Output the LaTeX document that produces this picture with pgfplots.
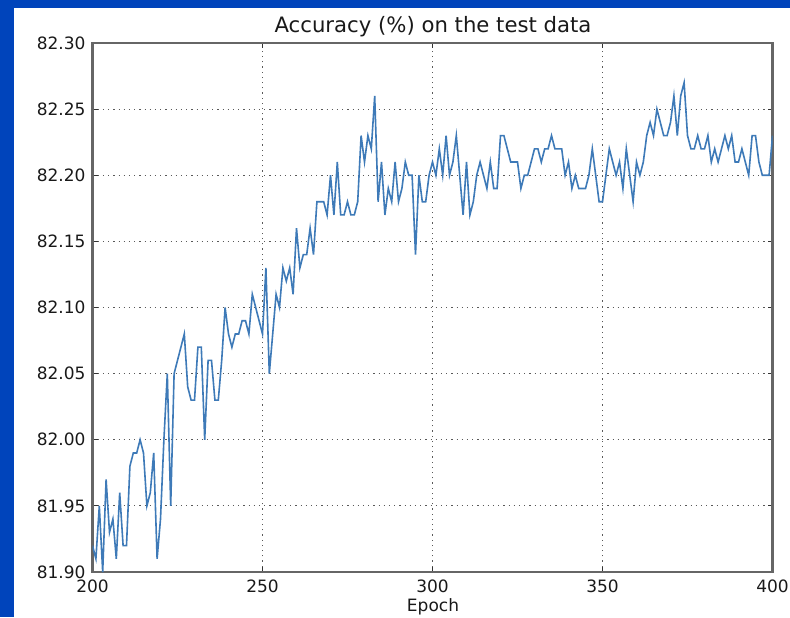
\documentclass[border=0pt]{standalone}
\usepackage{pgfplots}
\pgfplotsset{compat=1.18}
\usepackage{fontspec}
\setmainfont{DejaVu Sans}
\definecolor{slideblue}{RGB}{0,68,187}
\definecolor{mplblue}{RGB}{62,122,184}
\begin{document}
\begin{tikzpicture}
\useasboundingbox (0,0) rectangle (395pt,308.5pt);
\fill[slideblue] (0,0) rectangle (395pt,308.5pt);
\fill[white] (7pt,0) rectangle (395pt,304.5pt);
\begin{axis}[
  at={(46.25pt,22.5pt)}, anchor=south west,
  scale only axis, width=340pt, height=264.5pt,
  xmin=200, xmax=400, ymin=81.90, ymax=82.30,
  xtick={200,250,...,400}, ytick={81.90,81.95,...,82.31},
  tick align=inside, major tick length=2.5pt,
  tick style={black!80, line width=0.5pt},
  axis line style={black!60, line width=1.1pt},
  grid=major, major grid style={black!65, line width=0.45pt, dash pattern=on 0.6pt off 2pt},
  yticklabel style={/pgf/number format/.cd, fixed, fixed zerofill, precision=2},
  /pgf/number format/assume math mode=true,
  ticklabel style={font=\fontsize{8.5}{10}\selectfont, text=black!90},
  xticklabel style={yshift=-0.5pt},
]
\addplot[mplblue, line width=0.8pt] table {
x y
200 81.92
201 81.91
202 81.95
203 81.90
204 81.97
205 81.93
206 81.94
207 81.91
208 81.96
209 81.92
210 81.92
211 81.98
212 81.99
213 81.99
214 82.00
215 81.99
216 81.95
217 81.96
218 81.99
219 81.91
220 81.94
221 82.00
222 82.05
223 81.95
224 82.05
225 82.06
226 82.07
227 82.08
228 82.04
229 82.03
230 82.03
231 82.07
232 82.07
233 82.00
234 82.06
235 82.06
236 82.03
237 82.03
238 82.06
239 82.10
240 82.08
241 82.07
242 82.08
243 82.08
244 82.09
245 82.09
246 82.08
247 82.11
248 82.10
249 82.09
250 82.08
251 82.13
252 82.05
253 82.08
254 82.11
255 82.10
256 82.13
257 82.12
258 82.13
259 82.11
260 82.16
261 82.13
262 82.14
263 82.14
264 82.16
265 82.14
266 82.18
267 82.18
268 82.18
269 82.17
270 82.20
271 82.17
272 82.21
273 82.17
274 82.17
275 82.18
276 82.17
277 82.17
278 82.18
279 82.23
280 82.21
281 82.23
282 82.22
283 82.26
284 82.18
285 82.21
286 82.17
287 82.19
288 82.18
289 82.21
290 82.18
291 82.19
292 82.21
293 82.20
294 82.20
295 82.14
296 82.20
297 82.18
298 82.18
299 82.20
300 82.21
301 82.20
302 82.22
303 82.20
304 82.23
305 82.20
306 82.21
307 82.23
308 82.20
309 82.17
310 82.21
311 82.17
312 82.18
313 82.20
314 82.21
315 82.20
316 82.19
317 82.21
318 82.19
319 82.19
320 82.23
321 82.23
322 82.22
323 82.21
324 82.21
325 82.21
326 82.19
327 82.20
328 82.20
329 82.21
330 82.22
331 82.22
332 82.21
333 82.22
334 82.22
335 82.23
336 82.22
337 82.22
338 82.22
339 82.20
340 82.21
341 82.19
342 82.20
343 82.19
344 82.19
345 82.19
346 82.20
347 82.22
348 82.20
349 82.18
350 82.18
351 82.20
352 82.22
353 82.21
354 82.20
355 82.21
356 82.19
357 82.22
358 82.20
359 82.18
360 82.21
361 82.20
362 82.21
363 82.23
364 82.24
365 82.23
366 82.25
367 82.24
368 82.23
369 82.23
370 82.24
371 82.26
372 82.23
373 82.26
374 82.27
375 82.23
376 82.22
377 82.22
378 82.23
379 82.22
380 82.22
381 82.23
382 82.21
383 82.22
384 82.21
385 82.22
386 82.23
387 82.22
388 82.23
389 82.21
390 82.21
391 82.22
392 82.21
393 82.20
394 82.23
395 82.23
396 82.21
397 82.20
398 82.20
399 82.20
400 82.23
};
\end{axis}
\node[text=black!90, font=\fontsize{10.6}{12}\selectfont] at (216.5pt,295pt) {Accuracy (\%) on the test data};
\node[text=black!90, font=\fontsize{8.5}{10}\selectfont] at (216.5pt,5pt) {Epoch};
\end{tikzpicture}
\end{document}
